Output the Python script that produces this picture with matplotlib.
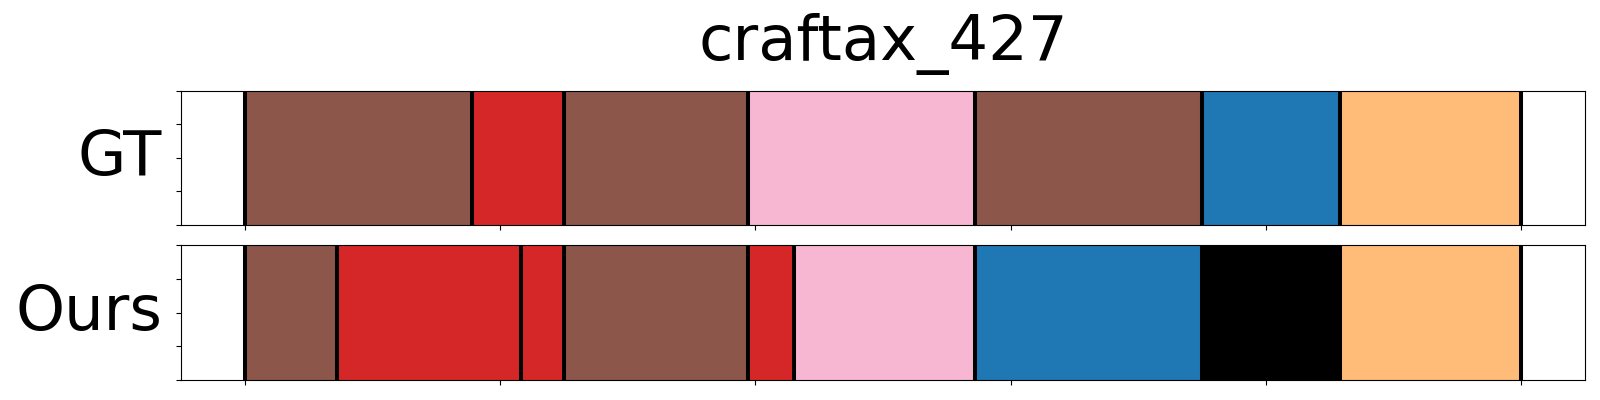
import matplotlib
matplotlib.use("Agg")
import matplotlib.pyplot as plt
import numpy as np

# segment boundaries (frame index) and segment classes for each row
gt_bounds = [0, 89, 125, 197, 286, 375, 429, 500]
gt_labels = ["brown", "red", "brown", "pink", "brown", "blue", "orange"]

ours_bounds = [0, 36, 108, 125, 197, 215, 286, 375, 429, 500]
ours_labels = ["brown", "red", "red", "brown", "red", "pink", "blue", "black", "orange"]

row_names = ["GT", "Ours"]
title = "craftax_427"

tab20 = plt.get_cmap("tab20").colors
palette = {
    "blue": tab20[0],
    "orange": tab20[3],
    "red": tab20[6],
    "brown": tab20[10],
    "pink": tab20[13],
    "black": "black",
}


def draw_row(ax, bounds, labels, name):
    for start, end, lab in zip(bounds[:-1], bounds[1:], labels):
        ax.axvspan(start, end, ymin=0, ymax=1, color=palette[lab], lw=0)
    for b in bounds:
        ax.axvline(b, color="black", lw=2.9)
    ax.set_ylim(0, 1)
    ax.set_yticks(np.linspace(0, 1, 5))
    ax.set_yticklabels([])
    ax.set_xticks(np.arange(0, bounds[-1] + 1, 100))
    ax.set_xticklabels([])
    ax.set_ylabel(name, fontsize=45, rotation=0, ha="right", va="center")
    ax.yaxis.set_label_coords(-0.0135, 0.5)


def main():
    fig = plt.figure(figsize=(16, 4), dpi=100)
    ax1 = fig.add_axes([0.1131, 0.4375, 0.8777, 0.3358])
    ax2 = fig.add_axes([0.1131, 0.05, 0.8777, 0.3368])

    draw_row(ax1, gt_bounds, gt_labels, row_names[0])
    draw_row(ax2, ours_bounds, ours_labels, row_names[1])
    for ax in (ax1, ax2):
        ax.margins(x=0.05)

    ax1.set_title(title, fontsize=45, pad=22)
    fig.savefig("out.png", dpi=100)


if __name__ == "__main__":
    main()
